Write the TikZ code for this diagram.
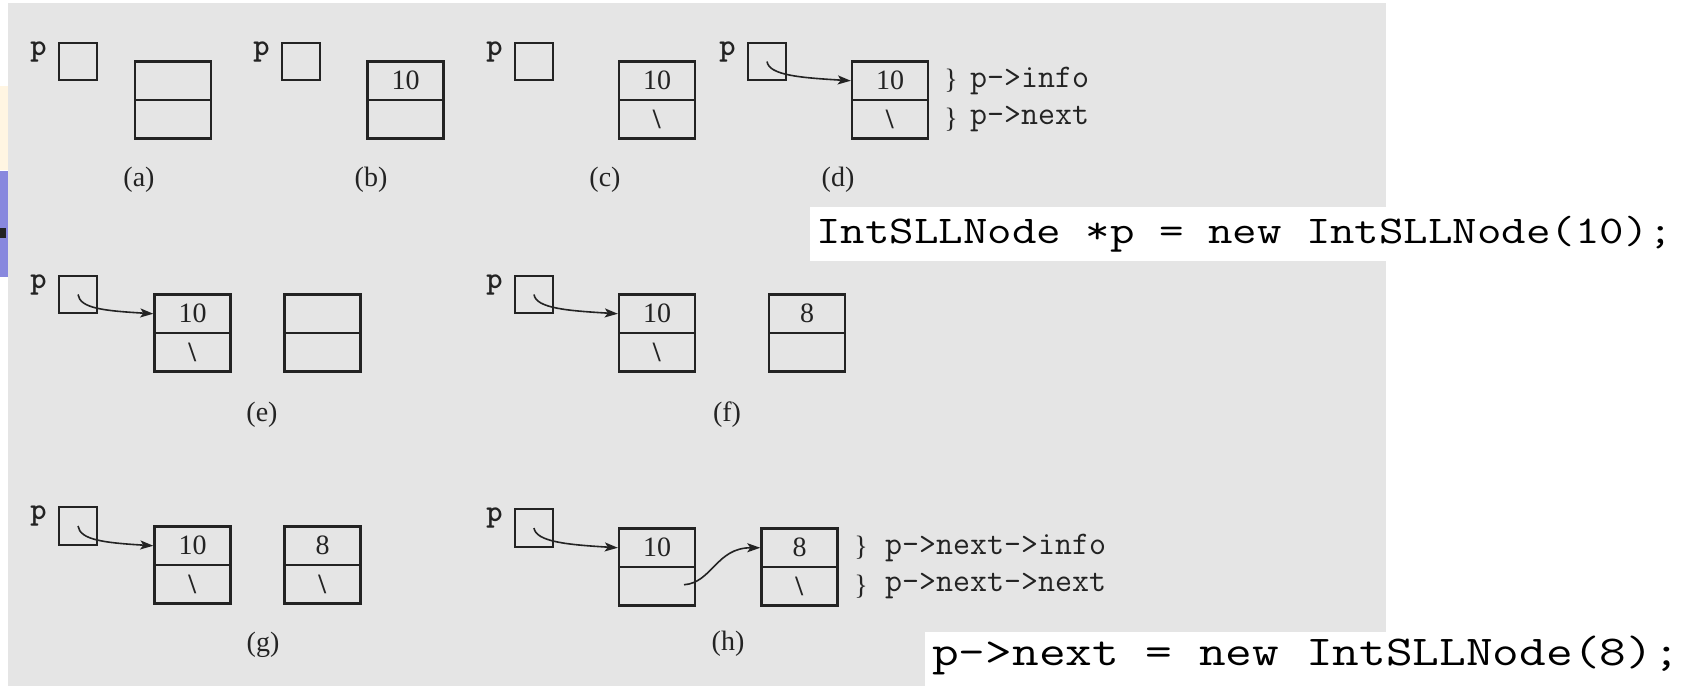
\documentclass[tikz,border=0pt]{standalone}
\usepackage{fontspec}
\usepackage{graphicx}
\setmainfont{Liberation Serif}
\usetikzlibrary{arrows.meta}

\definecolor{panel}{RGB}{229,229,229}
\definecolor{ink}{RGB}{35,35,35}
\definecolor{cream}{RGB}{255,245,226}
\definecolor{lavender}{RGB}{136,136,222}

% pointer variable: a small box with its name to the left
\newcommand\ptrvar[3]{%
  \node[ptrbox] (#1) at (#2,-#3) {};
  \node[varname] (#1v) at ([xshift=-11bp]#1.north west) {p};}

% list node: info cell above next cell, split at the given divider height
\newcommand\listcell[5]{%
  \node[cell] (#1i) at (#2,{-(#3)+19.25}) {#4};
  \node[cell] (#1n) at (#2,{-(#3)-19.25}) {#5};}

% null link mark
\newcommand\nil{\textbf{\textbackslash}}

\begin{document}
\begin{tikzpicture}[x=1bp,y=1bp,
  box/.style={draw=ink, line width=2.4bp, inner sep=0pt},
  ptrbox/.style={box, minimum width=38bp, minimum height=37.5bp},
  cell/.style={box, minimum width=76bp, minimum height=38.5bp,
    font=\fontsize{28bp}{30bp}\selectfont, text=ink},
  varname/.style={inner sep=0pt, anchor=north east,
    font=\ttfamily\bfseries\fontsize{31bp}{32bp}\selectfont, text=ink},
  caption/.style={inner sep=0pt, font=\fontsize{28bp}{30bp}\selectfont, text=ink},
  field/.style={inner sep=0pt, anchor=west,
    font=\ttfamily\fontsize{33bp}{34bp}\selectfont, text=ink},
  brace/.style={inner sep=0pt, font=\fontsize{28bp}{30bp}\selectfont, text=ink},
  link/.style={draw=ink, line width=1.6bp,
    -{Stealth[length=13bp,width=9bp,inset=3bp]}},
  code/.style={inner sep=0pt, anchor=base west, font=\ttfamily, text=black}
]
% page, panel and side strip
\fill[white] (0,0) rectangle (1681,-686);
\useasboundingbox (0,0) rectangle (1681,-686);
\fill[panel] (8,-3) rectangle (1386,-686);
\fill[cream] (0,-86) rectangle (8,-170);
\fill[lavender] (0,-171) rectangle (8,-277);
\fill[ink] (0,-228) rectangle (6,-238);
\fill[white] (810,-207) rectangle (1681,-261);
\fill[white] (925,-632) rectangle (1681,-686);

% ---- row 1: (a)-(d)
\ptrvar{pa}{78}{61.5}
\listcell{na}{173}{100}{}{}
\node[caption] (capa) at (139,-180) {(a)};

\ptrvar{pb}{301}{61.5}
\listcell{nb}{405.5}{100}{10}{}
\node[caption] (capb) at (371,-180) {(b)};

\ptrvar{pc}{534}{61.5}
\listcell{nc}{657}{100}{10}{\nil}
\node[caption] (capc) at (605,-180) {(c)};

\ptrvar{pd}{767}{61.5}
\listcell{nd}{890}{100}{10}{\nil}
\node[caption] (capd) at (838,-180) {(d)};
\draw[link] (pd.center) .. controls +(2,-14) and +(-49,3) .. (ndi.west);
\node[brace] (bdi) at (951,-80.75) {\}};
\node[field] (fdi) at (970,-80.75) {p->info};
\node[brace] (bdn) at (951,-119.25) {\}};
\node[field] (fdn) at (970,-119.25) {p->next};

\node[code] (code1) at (816,-243)
  {\fontsize{39.3bp}{40bp}\selectfont\scalebox{1.21}[1]{IntSLLNode *p = new IntSLLNode(10);}};

% ---- row 2: (e)-(f)
\ptrvar{pe}{78}{294.5}
\listcell{ne}{192.5}{333}{10}{\nil}
\listcell{me}{322.5}{333}{}{}
\node[caption] (cape) at (262,-415) {(e)};
\draw[link] (pe.center) .. controls +(2,-14) and +(-49,3) .. (nei.west);

\ptrvar{pf}{534}{294.5}
\listcell{nf}{657}{333}{10}{\nil}
\listcell{mf}{807}{333}{8}{}
\node[caption] (capf) at (727,-415) {(f)};
\draw[link] (pf.center) .. controls +(2,-14) and +(-49,3) .. (nfi.west);

% ---- row 3: (g)-(h)
\ptrvar{pg}{78}{526}
\listcell{ng}{192.5}{565}{10}{\nil}
\listcell{mg}{322.5}{565}{8}{\nil}
\node[caption] (capg) at (263,-645) {(g)};
\draw[link] (pg.center) .. controls +(2,-14) and +(-49,3) .. (ngi.west);

\ptrvar{ph}{534}{528}
\listcell{nh}{657}{567}{10}{}
\listcell{mh}{799.5}{567}{8}{\nil}
\node[caption] (caph) at (728,-644) {(h)};
\draw[link] (ph.center) .. controls +(2,-14) and +(-49,3) .. (nhi.west);
\draw[link] ([xshift=27bp,yshift=1.5bp]nhn.center)
  .. controls +(28,2) and +(-44,0) .. (mhi.west);
\node[brace] (bhi) at (861,-547.75) {\}};
\node[field] (fhi) at (885,-547.75) {p->next->info};
\node[brace] (bhn) at (861,-586.25) {\}};
\node[field] (fhn) at (885,-586.25) {p->next->next};

\node[code] (code2) at (932,-665)
  {\fontsize{42.5bp}{43bp}\selectfont\scalebox{1.22}[1]{p->next = new IntSLLNode(8);}};
\end{tikzpicture}
\end{document}
